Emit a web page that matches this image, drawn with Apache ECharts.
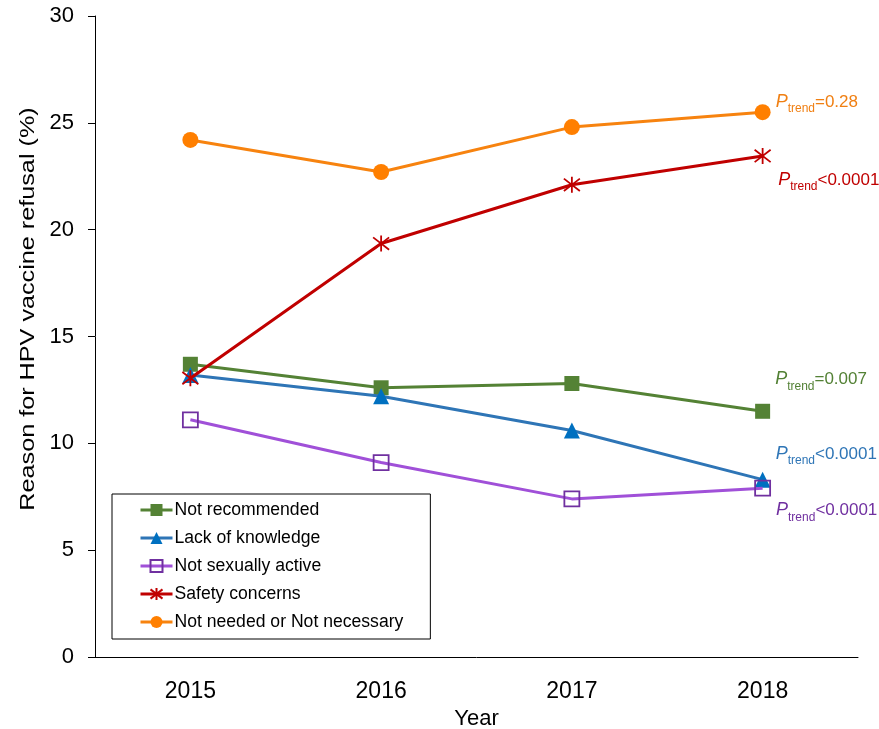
<!DOCTYPE html>
<html>
<head>
<meta charset="utf-8">
<script src="https://cdn.jsdelivr.net/npm/echarts@6/dist/echarts.min.js"></script>
<style>
  html, body { margin: 0; padding: 0; background: #fff; }
  #chart { width: 879px; height: 729px; }
</style>
</head>
<body>
<div id="chart"></div>
<script>
// Survey years
const years = ['2015', '2016', '2017', '2018'];

// Share of parents citing each reason (%)
const notRecommended = [13.7, 12.6, 12.8, 11.5];
const lackOfKnowledge = [13.2, 12.2, 10.6, 8.3];
const notSexuallyActive = [11.1, 9.1, 7.4, 7.9];
const safetyConcerns = [13.05, 19.35, 22.1, 23.45];
const notNeeded = [24.2, 22.7, 24.8, 25.5];

// Trend test results shown beside the 2018 points
const trendNotes = {
  notRecommended: '=0.007',
  lackOfKnowledge: '<0.0001',
  notSexuallyActive: '<0.0001',
  safetyConcerns: '<0.0001',
  notNeeded: '=0.28'
};

const yTitle = 'Reason for HPV vaccine refusal (%)';

const FONT = '"Liberation Sans", Arial, sans-serif';

const GRID = { left: 95, right: 21, top: 16, bottom: 72 };

function trendLabel(color, note, dy) {
  return {
    show: true,
    position: 'right',
    distance: 5,
    offset: [0, dy],
    formatter: '{p|P}{s|trend}{v|' + note + '}',
    rich: {
      p: { fontFamily: FONT, fontStyle: 'italic', fontSize: 18, color: color, verticalAlign: 'bottom', lineHeight: 20 },
      s: { fontFamily: FONT, fontSize: 12, color: color, verticalAlign: 'bottom', padding: [0, 0, -4, 0], lineHeight: 20 },
      v: { fontFamily: FONT, fontSize: 17, color: color, verticalAlign: 'bottom', lineHeight: 20 }
    }
  };
}

function withEndLabel(values, color, note, dy) {
  return values.map((v, i) => i === values.length - 1
    ? { value: v, label: trendLabel(color, note, dy) }
    : v);
}

const asterisk = 'path://M0,0L10,10M10,0L0,10M5,-1.5L5,11.5';

const option = {
  backgroundColor: '#fff',
  animation: false,
  grid: Object.assign({ outerBoundsMode: 'none', containLabel: false }, GRID),
  legend: {
    orient: 'vertical',
    left: 112,
    top: 494,
    padding: [7, 27, 8, 27],
    itemGap: 10,
    itemWidth: 32,
    itemHeight: 15,
    borderColor: '#000',
    borderWidth: 1,
    lineStyle: { width: 3 },
    textStyle: { fontFamily: FONT, fontSize: 17.6, lineHeight: 18, color: '#000', padding: [0, 0, 0, -3] },
    data: ['Not recommended', 'Lack of knowledge', 'Not sexually active', 'Safety concerns', 'Not needed or Not necessary']
  },
  xAxis: {
    type: 'category',
    data: years,
    boundaryGap: true,
    name: 'Year',
    nameLocation: 'middle',
    nameGap: 46,
    nameTextStyle: { fontFamily: FONT, fontSize: 22, color: '#000' },
    axisLine: { lineStyle: { color: '#000', width: 1 } },
    axisTick: { alignWithLabel: true, length: 6, lineStyle: { color: '#000' } },
    axisLabel: { fontFamily: FONT, fontSize: 23, color: '#000', margin: 23 }
  },
  yAxis: {
    type: 'value',
    min: 0,
    max: 30,
    interval: 5,
    axisLine: { show: true, lineStyle: { color: '#000', width: 1 } },
    axisTick: { show: true, length: 7, lineStyle: { color: '#000' } },
    axisLabel: { fontFamily: FONT, fontSize: 22, color: '#000', margin: 21 },
    splitLine: { show: false }
  },
  graphic: [{
    // vertical axis title, stretched a little along its reading direction
    type: 'text',
    x: 28,
    y: 309,
    rotation: Math.PI / 2,
    scaleX: 1.2,
    style: {
      text: yTitle,
      font: '21px ' + FONT,
      fill: '#000',
      align: 'center',
      verticalAlign: 'middle'
    },
    silent: true
  }],
  series: [
    {
      name: 'Not recommended',
      type: 'line',
      data: withEndLabel(notRecommended, '#538135', trendNotes.notRecommended, -33),
      symbol: 'rect',
      symbolSize: 15,
      lineStyle: { color: '#548235', width: 3 },
      itemStyle: { color: '#548235' },
      z: 3
    },
    {
      name: 'Lack of knowledge',
      type: 'line',
      data: withEndLabel(lackOfKnowledge, '#2E75B6', trendNotes.lackOfKnowledge, -27),
      symbol: 'triangle',
      symbolSize: 16,
      lineStyle: { color: '#2E75B6', width: 3 },
      itemStyle: { color: '#0070C0' },
      z: 4
    },
    {
      name: 'Not sexually active',
      type: 'line',
      data: withEndLabel(notSexuallyActive, '#7030A0', trendNotes.notSexuallyActive, 21),
      symbol: 'rect',
      symbolSize: 15,
      lineStyle: { color: '#A050D8', width: 3 },
      itemStyle: { color: 'rgba(255,255,255,0)', borderColor: '#7030A0', borderWidth: 1.8 },
      z: 5
    },
    {
      name: 'Safety concerns',
      type: 'line',
      data: withEndLabel(safetyConcerns, '#C00000', trendNotes.safetyConcerns, 23),
      symbol: asterisk,
      symbolSize: 16,
      lineStyle: { color: '#C00000', width: 3 },
      itemStyle: { color: 'none', borderColor: '#C00000', borderWidth: 1.8 },
      z: 6
    },
    {
      name: 'Not needed or Not necessary',
      type: 'line',
      data: withEndLabel(notNeeded, '#F07F12', trendNotes.notNeeded, -11),
      symbol: 'circle',
      symbolSize: 16,
      lineStyle: { color: '#F7830F', width: 3 },
      itemStyle: { color: '#FF7F00' },
      z: 7
    }
  ]
};

const chart = echarts.init(document.getElementById('chart'), null, { renderer: 'canvas' });
chart.setOption(option);
</script>
</body>
</html>
